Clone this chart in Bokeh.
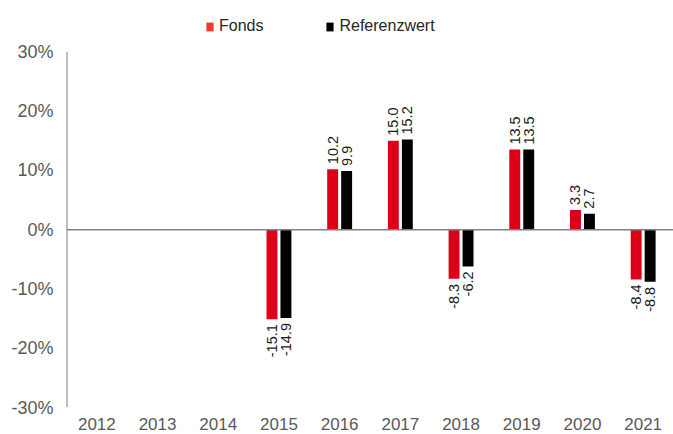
from bokeh.plotting import figure
from bokeh.models import (ColumnDataSource, FactorRange, Range1d, Span, Legend, LegendItem,
                          FixedTicker, CustomJSTickFormatter)
from bokeh.transform import dodge
from bokeh.core.properties import value
from bokeh.embed import file_html
from bokeh.resources import INLINE
import math

years = ["2012", "2013", "2014", "2015", "2016", "2017", "2018", "2019", "2020", "2021"]
bar_years = ["2015", "2016", "2017", "2018", "2019", "2020", "2021"]
fonds = [-15.1, 10.2, 15.0, -8.3, 13.5, 3.3, -8.4]
referenz = [-14.9, 9.9, 15.2, -6.2, 13.5, 2.7, -8.8]
y_ticks = [-30, -20, -10, 0, 10, 20, 30]

RED = "#DC0019"
RED_LEG = "#EE3A2B"
BLACK = "#000000"
GRAY_TXT = "#595959"
GRAY_LINE = "#808080"
FONT = "Liberation Sans"

# frame reaches the top of the page so that the legend (drawn inside it) is not clipped;
# the extra headroom above +30% holds the legend
Y_TOP = 38.65

p = figure(width=673, height=434, x_range=FactorRange(factors=years, range_padding=0),
           y_range=Range1d(y_ticks[0], Y_TOP), output_backend="svg", toolbar_location=None,
           min_border_left=66, min_border_right=0, min_border_top=0, min_border_bottom=27)
p.outline_line_color = None
p.xgrid.grid_line_color = None
p.ygrid.grid_line_color = None

OFF = 0.115
W = 0.18

src_f = ColumnDataSource(dict(year=bar_years, val=fonds))
src_r = ColumnDataSource(dict(year=bar_years, val=referenz))

r_f = p.vbar(x=dodge("year", -OFF, range=p.x_range), top="val", bottom=0, width=W, source=src_f,
             fill_color=RED, line_color=None)
r_r = p.vbar(x=dodge("year", OFF, range=p.x_range), top="val", bottom=0, width=W, source=src_r,
             fill_color=BLACK, line_color=None)
# zero-height twins used only for legend swatches (legend colour differs from bars)
r_lf = p.vbar(x=dodge("year", -OFF, range=p.x_range), top="val", bottom="val", width=W, source=src_f,
              fill_color=RED_LEG, line_color=None)
r_lr = p.vbar(x=dodge("year", OFF, range=p.x_range), top="val", bottom="val", width=W, source=src_r,
              fill_color=BLACK, line_color=None)

zero = Span(location=0, dimension="width", line_color=GRAY_LINE, line_width=1.5)
p.add_layout(zero)

# y-axis line from -30% to +30% at the left edge of the category range
axis_src = ColumnDataSource(dict(year=[years[0]], y0=[y_ticks[0]], y1=[y_ticks[-1]]))
p.segment(x0=dodge("year", -0.5, range=p.x_range), y0="y0",
          x1=dodge("year", -0.5, range=p.x_range), y1="y1",
          source=axis_src, line_color=GRAY_LINE, line_width=2)

def add_labels(vals, off):
    pos_idx = [i for i, v in enumerate(vals) if v >= 0]
    neg_idx = [i for i, v in enumerate(vals) if v < 0]
    for idx, align, yo in ((pos_idx, "left", -5), (neg_idx, "right", 5)):
        s = ColumnDataSource(dict(year=[bar_years[i] for i in idx], val=[vals[i] for i in idx],
                                  label=[f"{vals[i]:.1f}" for i in idx]))
        p.text(x=dodge("year", off, range=p.x_range), y="val", text="label", source=s,
               angle=math.pi / 2, text_align=align, text_baseline="middle",
               y_offset=yo, text_font=value(FONT), text_font_size="14.5px", text_color="#1a1a1a")

add_labels(fonds, -OFF)
add_labels(referenz, OFF)

# axes
p.yaxis.ticker = FixedTicker(ticks=y_ticks)
p.yaxis.formatter = CustomJSTickFormatter(code="return tick.toFixed(0) + '%';")
p.yaxis.axis_line_color = None
p.yaxis.major_tick_line_color = None
p.yaxis.minor_tick_line_color = None
p.yaxis.major_tick_out = 0
p.yaxis.major_tick_in = 0
p.yaxis.major_label_standoff = 13
p.yaxis.major_label_text_font = FONT
p.yaxis.major_label_text_font_size = "18px"
p.yaxis.major_label_text_color = GRAY_TXT

p.xaxis.axis_line_color = None
p.xaxis.major_tick_line_color = None
p.xaxis.minor_tick_line_color = None
p.xaxis.major_tick_out = 0
p.xaxis.major_tick_in = 0
p.xaxis.major_label_standoff = 10
p.xaxis.major_label_text_font = FONT
p.xaxis.major_label_text_font_size = "17px"
p.xaxis.major_label_text_color = GRAY_TXT

legend = Legend(items=[LegendItem(label="Fonds", renderers=[r_lf]),
                       LegendItem(label="Referenzwert", renderers=[r_lr])],
                orientation="horizontal", location=(139, 372), padding=0, margin=0,
                spacing=62, label_standoff=5, glyph_width=9, glyph_height=11,
                label_text_font=FONT, label_text_font_size="16px",
                label_text_color="#262626", background_fill_alpha=0, border_line_alpha=0)
p.add_layout(legend)

open("out.html", "w").write(file_html(p, INLINE))
